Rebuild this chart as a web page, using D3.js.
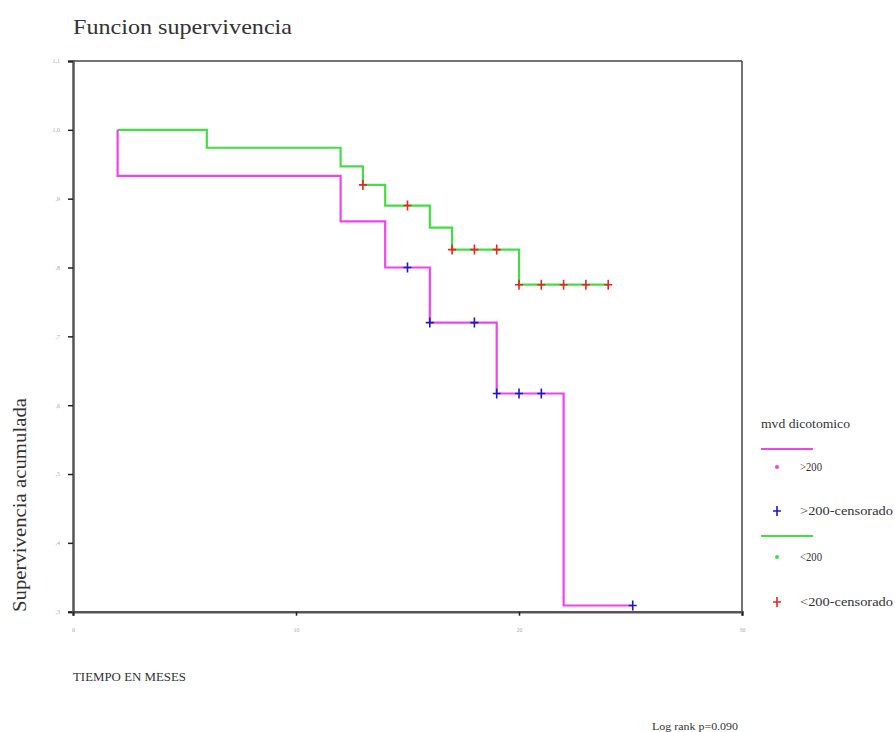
<!DOCTYPE html>
<html>
<head>
<meta charset="utf-8">
<script src="https://cdn.jsdelivr.net/npm/d3@7/dist/d3.min.js"></script>
<style>
  body { margin: 0; background: #fff; }
  svg { display: block; }
  svg text { font-family: "Liberation Serif", "DejaVu Serif", serif; }
</style>
</head>
<body>
<svg id="chart" width="895" height="732"></svg>
<script>
// ---- data ----
const xTicks = [0, 10, 20, 30];
const xTickLabels = ["0", "10", "20", "30"];
const yTicks = [1.1, 1.0, 0.9, 0.8, 0.7, 0.6, 0.5, 0.4, 0.3];
const yTickLabels = ["1,1", "1,0", ",9", ",8", ",7", ",6", ",5", ",4", ",3"];

// >200 group
const highStart = 2;
const highEventTimes = [2, 12, 14, 16, 19, 22];
const highSurvival = [0.933, 0.867, 0.800, 0.720, 0.617, 0.309];
const highEnd = 25.1;
const highCensorTimes = [15, 16, 18, 19, 20, 21, 25.1];

// <200 group
const lowStart = 2;
const lowEventTimes = [6, 12, 13, 14, 16, 17, 20];
const lowSurvival = [0.974, 0.947, 0.920, 0.890, 0.858, 0.826, 0.775];
const lowEnd = 24;
const lowCensorTimes = [13, 15, 17, 18, 19, 20, 21, 22, 23, 24];

const legendTitle = "mvd dicotomico";
const legendLabels = [">200", ">200-censorado", "<200", "<200-censorado"];

// ---- drawing ----
const svg = d3.select("#chart");
const L = 73, R = 742, T = 61, B = 611.7;
const x = d3.scaleLinear().domain([0, 30]).range([L, R]);
const y = d3.scaleLinear().domain([0.3, 1.1]).range([B, T]);

const colHigh = "#ee44ee", colHighC = "#1a1acc";
const colLow = "#44dd44", colLowC = "#ee2222";

function fitText(sel, len) {
  return sel.attr("textLength", len).attr("lengthAdjust", "spacingAndGlyphs");
}

// title
fitText(svg.append("text").attr("x", 73).attr("y", 34).attr("font-size", 21).attr("fill", "#333")
  .text("Funcion supervivencia"), 219);

// frame top/right
svg.append("line").attr("x1", L).attr("x2", R).attr("y1", T).attr("y2", T)
  .attr("stroke", "#444").attr("stroke-width", 1.5);
svg.append("line").attr("x1", R).attr("x2", R).attr("y1", T).attr("y2", B)
  .attr("stroke", "#444").attr("stroke-width", 1.5);

// axes
const yAxis = d3.axisLeft(y).tickValues(yTicks).tickFormat((d, i) => yTickLabels[i]).tickSize(5).tickPadding(8);
const gy = svg.append("g").attr("transform", `translate(${L},0)`).call(yAxis);
const xAxis = d3.axisBottom(x).tickValues(xTicks).tickFormat((d, i) => xTickLabels[i]).tickSize(4).tickPadding(12);
const gx = svg.append("g").attr("transform", `translate(0,${B})`).call(xAxis);
[gy, gx].forEach(g => {
  g.select(".domain").attr("stroke", "#555").attr("stroke-width", 2.5);
  g.selectAll(".tick line").attr("stroke", "#222").attr("stroke-width", 1.5);
  g.selectAll(".tick text").attr("font-size", 6).attr("fill", "#aaa")
    .attr("font-family", "Liberation Serif, serif");
});

// curves
function curvePoints(start, times, surv, end) {
  const pts = [[start, 1.0]];
  times.forEach((t, i) => pts.push([t, surv[i]]));
  pts.push([end, surv[surv.length - 1]]);
  return pts;
}
function survAt(t, times, surv) {
  let s = 1.0;
  times.forEach((tt, i) => { if (tt <= t) s = surv[i]; });
  return s;
}
const line = d3.line().x(d => x(d[0])).y(d => y(d[1])).curve(d3.curveStepAfter);

function drawGroup(start, times, surv, end, censors, col, ccol) {
  svg.append("path").datum(curvePoints(start, times, surv, end))
    .attr("d", line).attr("fill", "none").attr("stroke", col).attr("stroke-width", 2.2);
  const g = svg.append("g");
  censors.forEach(t => {
    const cx = x(t), cy = y(survAt(t, times, surv));
    g.append("path").attr("d", `M${cx - 4},${cy}H${cx + 4}M${cx},${cy - 5}V${cy + 5}`)
      .attr("stroke", ccol).attr("stroke-width", 1.6).attr("fill", "none");
  });
}
drawGroup(lowStart, lowEventTimes, lowSurvival, lowEnd, lowCensorTimes, colLow, colLowC);
drawGroup(highStart, highEventTimes, highSurvival, highEnd, highCensorTimes, colHigh, colHighC);

// y label
fitText(svg.append("text").attr("transform", "translate(26,612) rotate(-90)")
  .attr("font-size", 18).attr("fill", "#333").text("Supervivencia acumulada"), 214);

// x label
fitText(svg.append("text").attr("x", 73).attr("y", 681).attr("font-size", 12).attr("fill", "#333")
  .text("TIEMPO EN MESES"), 113);

// log rank
fitText(svg.append("text").attr("x", 652).attr("y", 730).attr("font-size", 11).attr("fill", "#333")
  .text("Log rank p=0.090"), 86);

// legend
const lg = svg.append("g").attr("fill", "#333");
fitText(lg.append("text").attr("x", 761).attr("y", 428).attr("font-size", 12).text(legendTitle), 89);
lg.append("line").attr("x1", 761).attr("x2", 813).attr("y1", 449).attr("y2", 449)
  .attr("stroke", colHigh).attr("stroke-width", 2);
lg.append("line").attr("x1", 761).attr("x2", 813).attr("y1", 536).attr("y2", 536)
  .attr("stroke", colLow).attr("stroke-width", 2);
const items = [
  { y: 467, col: colHigh, kind: "dot", w: 22 },
  { y: 511, col: colHighC, kind: "plus", w: 93 },
  { y: 557, col: colLow, kind: "dot", w: 22 },
  { y: 602, col: colLowC, kind: "plus", w: 93 }
];
items.forEach((it, i) => {
  if (it.kind === "dot") {
    lg.append("circle").attr("cx", 777).attr("cy", it.y).attr("r", 2).attr("fill", it.col);
  } else {
    lg.append("path").attr("d", `M773,${it.y}H781M777,${it.y - 5}V${it.y + 5}`)
      .attr("stroke", it.col).attr("stroke-width", 1.6);
  }
  fitText(lg.append("text").attr("x", 800).attr("y", it.y + 4).attr("font-size", 12)
    .text(legendLabels[i]), it.w);
});
</script>
</body>
</html>
